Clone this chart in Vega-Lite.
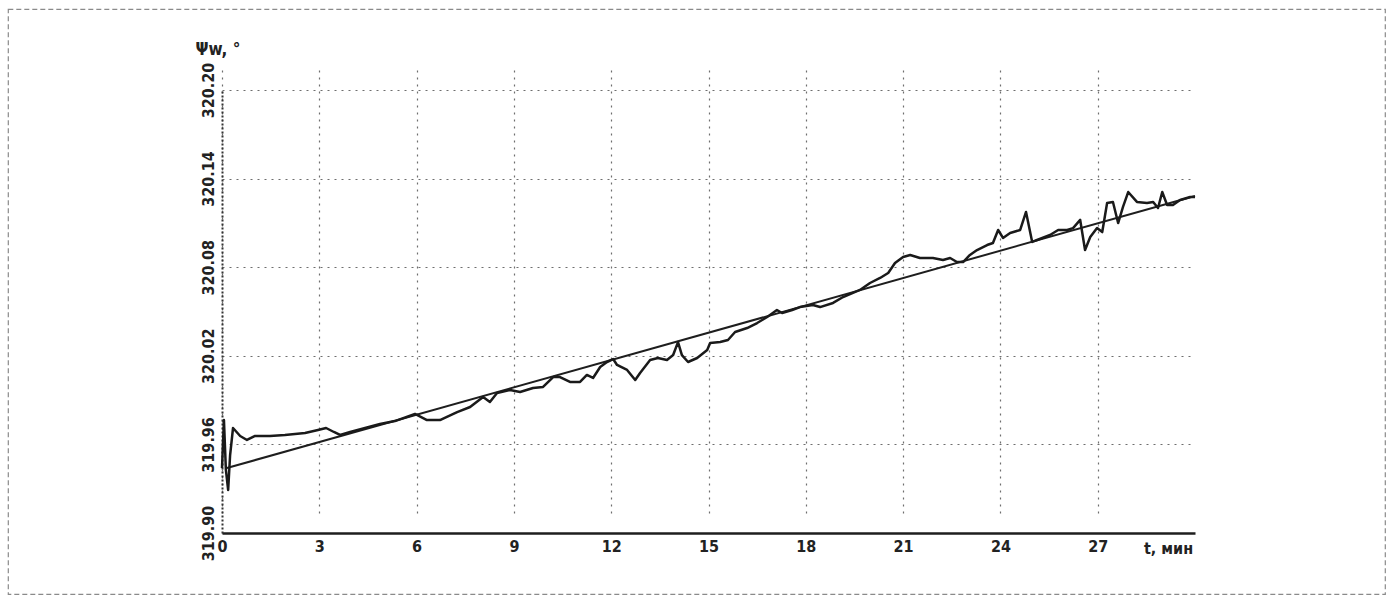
{
  "$schema": "https://vega.github.io/schema/vega-lite/v6.json",
  "width": 1377,
  "height": 585,
  "autosize": {"type": "none"},
  "padding": {"left": 8, "top": 9, "right": 8, "bottom": 4},
  "background": "#ffffff",
  "config": {
    "view": {"stroke": "#8a8a8a", "strokeDash": [5, 3], "strokeWidth": 1.2},
    "font": "DejaVu Sans Condensed"
  },
  "datasets": {
    "measured": [
      {"t": 0.00, "v": 319.9440}, {"t": 0.06, "v": 319.9765}, {"t": 0.12, "v": 319.9427}, {"t": 0.19, "v": 319.9291},
      {"t": 0.25, "v": 319.9528}, {"t": 0.34, "v": 319.9711}, {"t": 0.56, "v": 319.9657}, {"t": 0.77, "v": 319.9630},
      {"t": 1.02, "v": 319.9657}, {"t": 1.48, "v": 319.9657}, {"t": 1.94, "v": 319.9664}, {"t": 2.56, "v": 319.9677},
      {"t": 2.96, "v": 319.9698}, {"t": 3.21, "v": 319.9711}, {"t": 3.45, "v": 319.9684}, {"t": 3.64, "v": 319.9664},
      {"t": 3.95, "v": 319.9684}, {"t": 4.41, "v": 319.9711}, {"t": 4.87, "v": 319.9738}, {"t": 5.33, "v": 319.9758},
      {"t": 5.95, "v": 319.9806}, {"t": 6.32, "v": 319.9765}, {"t": 6.72, "v": 319.9765}, {"t": 7.25, "v": 319.9819},
      {"t": 7.65, "v": 319.9853}, {"t": 8.05, "v": 319.9921}, {"t": 8.26, "v": 319.9887}, {"t": 8.48, "v": 319.9948},
      {"t": 8.88, "v": 319.9968}, {"t": 9.19, "v": 319.9955}, {"t": 9.59, "v": 319.9982}, {"t": 9.90, "v": 319.9989},
      {"t": 10.21, "v": 320.0056}, {"t": 10.42, "v": 320.0056}, {"t": 10.73, "v": 320.0023}, {"t": 11.04, "v": 320.0023},
      {"t": 11.25, "v": 320.0070}, {"t": 11.44, "v": 320.0050}, {"t": 11.66, "v": 320.0124}, {"t": 11.87, "v": 320.0158},
      {"t": 12.06, "v": 320.0178}, {"t": 12.18, "v": 320.0138}, {"t": 12.49, "v": 320.0104}, {"t": 12.74, "v": 320.0036},
      {"t": 12.89, "v": 320.0084}, {"t": 13.20, "v": 320.0172}, {"t": 13.44, "v": 320.0185}, {"t": 13.72, "v": 320.0172},
      {"t": 13.91, "v": 320.0205}, {"t": 14.06, "v": 320.0293}, {"t": 14.18, "v": 320.0205}, {"t": 14.37, "v": 320.0158},
      {"t": 14.65, "v": 320.0185}, {"t": 14.96, "v": 320.0239}, {"t": 15.05, "v": 320.0287}, {"t": 15.36, "v": 320.0293},
      {"t": 15.60, "v": 320.0307}, {"t": 15.82, "v": 320.0361}, {"t": 16.19, "v": 320.0388}, {"t": 16.50, "v": 320.0422},
      {"t": 16.81, "v": 320.0463}, {"t": 17.11, "v": 320.0510}, {"t": 17.27, "v": 320.0490}, {"t": 17.58, "v": 320.0510},
      {"t": 17.82, "v": 320.0530}, {"t": 18.22, "v": 320.0544}, {"t": 18.44, "v": 320.0530}, {"t": 18.84, "v": 320.0558},
      {"t": 19.15, "v": 320.0598}, {"t": 19.67, "v": 320.0646}, {"t": 19.98, "v": 320.0693}, {"t": 20.29, "v": 320.0727},
      {"t": 20.54, "v": 320.0761}, {"t": 20.75, "v": 320.0828}, {"t": 21.00, "v": 320.0869}, {"t": 21.22, "v": 320.0883},
      {"t": 21.52, "v": 320.0862}, {"t": 21.92, "v": 320.0862}, {"t": 22.23, "v": 320.0849}, {"t": 22.45, "v": 320.0862},
      {"t": 22.66, "v": 320.0835}, {"t": 22.85, "v": 320.0835}, {"t": 23.06, "v": 320.0883}, {"t": 23.28, "v": 320.0916},
      {"t": 23.59, "v": 320.0950}, {"t": 23.77, "v": 320.0964}, {"t": 23.93, "v": 320.1052}, {"t": 24.08, "v": 320.0998},
      {"t": 24.30, "v": 320.1032}, {"t": 24.61, "v": 320.1052}, {"t": 24.79, "v": 320.1174}, {"t": 24.98, "v": 320.0971},
      {"t": 25.13, "v": 320.0984}, {"t": 25.53, "v": 320.1018}, {"t": 25.78, "v": 320.1052}, {"t": 26.06, "v": 320.1052},
      {"t": 26.24, "v": 320.1065}, {"t": 26.46, "v": 320.1120}, {"t": 26.61, "v": 320.0916}, {"t": 26.77, "v": 320.1004},
      {"t": 26.98, "v": 320.1065}, {"t": 27.14, "v": 320.1038}, {"t": 27.29, "v": 320.1235}, {"t": 27.47, "v": 320.1242},
      {"t": 27.63, "v": 320.1099}, {"t": 27.78, "v": 320.1208}, {"t": 27.94, "v": 320.1309}, {"t": 28.21, "v": 320.1242},
      {"t": 28.52, "v": 320.1235}, {"t": 28.71, "v": 320.1242}, {"t": 28.86, "v": 320.1201}, {"t": 28.99, "v": 320.1309},
      {"t": 29.14, "v": 320.1221}, {"t": 29.32, "v": 320.1221}, {"t": 29.54, "v": 320.1255}, {"t": 29.85, "v": 320.1275},
      {"t": 30.00, "v": 320.1275}
    ],
    "trend": [
      {"t": 0.15, "v": 319.9440},
      {"t": 30.00, "v": 320.1282}
    ]
  },
  "layer": [
    {
      "data": {"name": "trend"},
      "mark": {"type": "line", "color": "#1e1e1e", "strokeWidth": 2.0},
      "encoding": {
        "x": {
          "field": "t", "type": "quantitative",
          "scale": {"domain": [0, 30], "range": [214, 1187], "nice": false, "zero": false},
          "axis": {
            "values": [0, 3, 6, 9, 12, 15, 18, 21, 24, 27],
            "offset": -61,
            "title": "t, мин",
            "titleX": 1160, "titleY": 15, "titleAlign": "center", "titleBaseline": "middle",
            "titleFont": "DejaVu Sans Condensed", "titleFontSize": 16, "titleFontWeight": "bold", "titleColor": "#222",
            "labelFont": "DejaVu Sans Condensed", "labelFontSize": 16, "labelFontWeight": "bold", "labelColor": "#222",
            "labelPadding": 5, "labelFlush": false, "labelOverlap": false,
            "labelExpr": "datum.value == 0 ? '  0' : datum.label",
            "ticks": false,
            "domainColor": "#1e1e1e", "domainWidth": 2.6,
            "grid": true, "gridColor": "#6e6e6e", "gridDash": [2, 5], "gridWidth": 1.2
          }
        },
        "y": {
          "field": "v", "type": "quantitative",
          "scale": {"domain": [319.9, 320.2], "range": [524, 81], "nice": false, "zero": false},
          "axis": {
            "values": [319.9, 319.96, 320.02, 320.08, 320.14, 320.2],
            "offset": -214,
            "labelExpr": "format(datum.value, '.2f')",
            "labelAngle": 270, "labelAlign": "center", "labelBaseline": "bottom",
            "labelFont": "DejaVu Sans Condensed", "labelFontSize": 16, "labelFontWeight": "bold", "labelColor": "#222",
            "labelPadding": 6, "labelOverlap": false, "labelFlush": false,
            "ticks": false,
            "domainColor": "#333", "domainDash": [2, 2], "domainWidth": 2,
            "grid": true, "gridColor": "#6e6e6e", "gridDash": [2, 5], "gridWidth": 1.2,
            "title": "Ψw, °",
            "titleAngle": 0, "titleX": -27, "titleY": 40, "titleAlign": "left", "titleBaseline": "middle",
            "titleFont": "DejaVu Sans Condensed", "titleFontSize": 17, "titleFontWeight": "bold", "titleColor": "#222"
          }
        }
      }
    },
    {
      "data": {"name": "measured"},
      "mark": {"type": "line", "color": "#1a1a1a", "strokeWidth": 2.5, "strokeJoin": "round"},
      "encoding": {
        "x": {"field": "t", "type": "quantitative"},
        "y": {"field": "v", "type": "quantitative"}
      }
    }
  ]
}
